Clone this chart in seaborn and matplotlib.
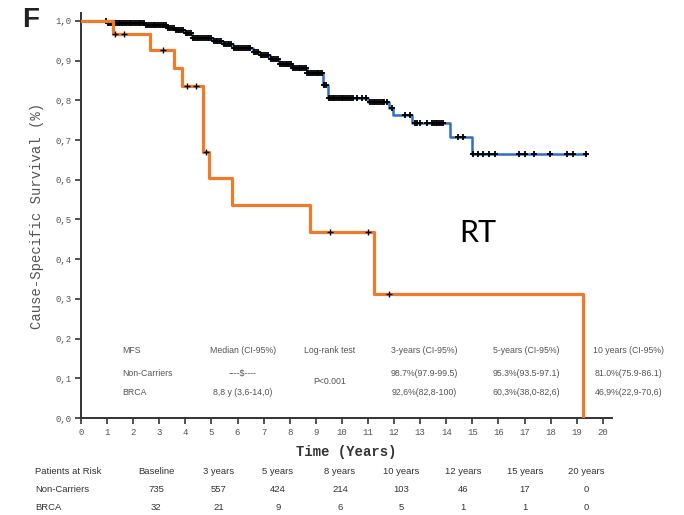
import numpy as np
import pandas as pd
import matplotlib
matplotlib.use("Agg")
import matplotlib.pyplot as plt
import seaborn as sns

# Kaplan-Meier steps (years, survival)
nc_times = [0, 0.99, 2.45, 3.30, 3.60, 3.98, 4.25, 5.06, 5.45, 5.83, 6.60, 6.85, 7.24,
            7.60, 8.10, 8.65, 9.27, 9.46, 11.0, 11.8, 11.95, 12.7, 14.14, 15.0, 19.35]
nc_surv = [1.0, 0.995, 0.990, 0.982, 0.976, 0.970, 0.956, 0.950, 0.941, 0.931, 0.923, 0.914,
           0.903, 0.892, 0.882, 0.870, 0.839, 0.807, 0.797, 0.781, 0.763, 0.743, 0.708,
           0.665, 0.665]
nc_censor = [0.95, 1.02, 1.09, 1.16, 1.23, 1.30, 1.37, 1.44, 1.51, 1.58, 1.65, 1.72, 1.79,
             1.86, 1.93, 2.00, 2.07, 2.14, 2.21, 2.28, 2.35, 2.42, 2.50, 2.57, 2.64, 2.71,
             2.78, 2.85, 2.92, 2.99, 3.06, 3.13, 3.20, 3.27, 3.34, 3.41, 3.48, 3.55, 3.63,
             3.70, 3.77, 3.84, 3.91, 4.01, 4.08, 4.15, 4.22, 4.29, 4.36, 4.43, 4.50, 4.57,
             4.64, 4.71, 4.78, 4.85, 4.92, 4.99, 5.09, 5.16, 5.23, 5.30, 5.37, 5.48, 5.55,
             5.62, 5.69, 5.76, 5.86, 5.93, 6.00, 6.07, 6.14, 6.21, 6.28, 6.35, 6.42, 6.49,
             6.63, 6.70, 6.77, 6.88, 6.95, 7.02, 7.09, 7.16, 7.27, 7.34, 7.41, 7.48, 7.55,
             7.63, 7.70, 7.77, 7.84, 7.91, 7.98, 8.05, 8.13, 8.20, 8.27, 8.34, 8.41, 8.48,
             8.55, 8.62, 8.68, 8.75, 8.82, 8.89, 8.96, 9.03, 9.10, 9.17, 9.24, 9.32, 9.40,
             9.50, 9.57, 9.64, 9.71, 9.78, 9.85, 9.92, 9.99, 10.06, 10.13, 10.20, 10.27,
             10.34, 10.42, 10.57, 10.77, 10.92, 11.07, 11.14, 11.21, 11.28, 11.35, 11.42,
             11.49, 11.56, 11.63, 11.72, 11.92, 12.41, 12.6, 12.8, 12.87, 12.99, 13.26,
             13.45, 13.52, 13.59, 13.66, 13.73, 13.80, 13.87, 14.44, 14.64, 15.02, 15.21,
             15.4, 15.63, 15.86, 16.78, 17.01, 17.36, 17.97, 18.62, 18.85, 19.35]

brca_times = [0, 1.23, 2.64, 3.56, 3.87, 4.67, 4.90, 5.79, 8.77, 11.22, 19.23]
brca_surv = [1.0, 0.967, 0.927, 0.882, 0.836, 0.670, 0.604, 0.536, 0.468, 0.312, 0.0]
brca_censor = [1.30, 1.65, 3.14, 4.06, 4.41, 4.79, 9.54, 10.99, 11.8]

# summary table inside the plot
table_header = ["MFS", "Median (CI-95%)", "Log-rank test", "3-years (CI-95%)",
                "5-years (CI-95%)", "10 years (CI-95%)"]
table_nc = ["Non-Carriers", "----$----", "98.7%(97.9-99.5)", "95.3%(93.5-97.1)",
            "81.0%(75.9-86.1)"]
table_brca = ["BRCA", "8,8 y (3,6-14,0)", "92,6%(82,8-100)", "60,3%(38,0-82,6)",
              "46,9%(22,9-70,6)"]
logrank_p = "P<0.001"

# patients at risk
risk_cols = ["Baseline", "3 years", "5 years", "8 years", "10 years", "12 years",
             "15 years", "20 years"]
risk_nc = [735, 557, 424, 214, 103, 46, 17, 0]
risk_brca = [32, 21, 9, 6, 5, 1, 1, 0]

BLUE = "#2f6fc4"
ORANGE = "#ee7a2a"
GREY = "#555555"


def censor_points(times, surv, cens):
    idx = np.searchsorted(times, cens, side="right") - 1
    return pd.DataFrame({"t": cens, "s": np.array(surv)[idx]})


sns.set_theme(style="white")
fig = plt.figure(figsize=(6.84, 5.15), dpi=100)
ax = fig.add_axes([81 / 684, 1 - 418 / 515, 531 / 684, 405 / 515])

sns.lineplot(x=nc_times, y=nc_surv, drawstyle="steps-post", estimator=None, sort=False,
             color=BLUE, linewidth=1.8, ax=ax)
nc_c = censor_points(nc_times, nc_surv, nc_censor)
sns.scatterplot(data=nc_c, x="t", y="s", marker="+", s=18, color="black",
                linewidth=1.3, ax=ax, zorder=4)

sns.lineplot(x=brca_times, y=brca_surv, drawstyle="steps-post", estimator=None, sort=False,
             color=ORANGE, linewidth=2.3, ax=ax, zorder=5)
b_c = censor_points(brca_times, brca_surv, brca_censor)
sns.scatterplot(data=b_c, x="t", y="s", marker="+", s=18, color="black",
                linewidth=1.0, ax=ax, zorder=6)

ax.set_xlim(0, 20.35)
ax.set_ylim(0, 1.02)
ax.set_xticks(range(0, 21))
ax.set_xticklabels([str(i) for i in range(0, 21)])
yt = np.round(np.arange(0, 1.01, 0.1), 1)
ax.set_yticks(yt)
ax.set_yticklabels([f"{v:.1f}".replace(".", ",") for v in yt])
mono = "Liberation Mono"
for lab in ax.get_xticklabels() + ax.get_yticklabels():
    lab.set_fontfamily(mono)
    lab.set_fontsize(6.5)
    lab.set_color(GREY)
ax.tick_params(axis="both", direction="out", length=4, width=1.2, color="#333333",
               left=True, bottom=True, pad=3)
for side in ["top", "right"]:
    ax.spines[side].set_visible(False)
for side in ["left", "bottom"]:
    ax.spines[side].set_color("#333333")
    ax.spines[side].set_linewidth(1.4)

ax.set_xlabel("Time (Years)", fontfamily=mono, fontsize=10, color="#333333",
              fontweight="bold", labelpad=6)
ax.set_ylabel("Cause-Specific Survival (%)", fontfamily=mono, fontsize=10, color=GREY,
              labelpad=8)

# table inside axes
tfont = dict(fontfamily="Liberation Sans", fontsize=6.3, color=GREY, va="center")
col_x = [1.57, 6.2, 9.54, 13.14, 17.05, 21.0]
ax.text(col_x[0], 0.171, table_header[0], ha="left", **tfont)
for x, h in zip(col_x[1:], table_header[1:]):
    ax.text(x, 0.171, h, ha="center", clip_on=False, **tfont)
ax.text(col_x[0], 0.113, table_nc[0], ha="left", **tfont)
ax.text(col_x[0], 0.063, table_brca[0], ha="left", **tfont)
ax.text(col_x[1], 0.113, table_nc[1], ha="center", **tfont)
ax.text(col_x[1], 0.063, table_brca[1], ha="center", **tfont)
ax.text(col_x[2], 0.091, logrank_p, ha="center", **tfont)
for x, a, b in zip(col_x[3:], table_nc[2:], table_brca[2:]):
    ax.text(x, 0.113, a, ha="center", clip_on=False, **tfont)
    ax.text(x, 0.063, b, ha="center", clip_on=False, **tfont)

ax.text(15.2, 0.465, "RT", fontfamily="Lato", fontsize=22, color="black",
        ha="center", va="center")
fig.text(31 / 684, 1 - 20 / 515, "F", fontfamily="Liberation Sans", fontsize=20,
         fontweight="bold", color="#222222", ha="center", va="center")

# patients at risk below
rfont = dict(fontfamily="Liberation Sans", fontsize=6.8, color="#333333", va="center")
risk_x = [156, 218.5, 278, 340, 401.6, 463, 525, 586.5]
rows_y = [472, 489, 507]
fig.text(35 / 684, 1 - rows_y[0] / 515, "Patients at Risk", ha="left", **rfont)
fig.text(35 / 684, 1 - rows_y[1] / 515, "Non-Carriers", ha="left", **rfont)
fig.text(35 / 684, 1 - rows_y[2] / 515, "BRCA", ha="left", **rfont)
for px, c, a, b in zip(risk_x, risk_cols, risk_nc, risk_brca):
    fig.text(px / 684, 1 - rows_y[0] / 515, c, ha="center", **rfont)
    fig.text(px / 684, 1 - rows_y[1] / 515, str(a), ha="center", **rfont)
    fig.text(px / 684, 1 - rows_y[2] / 515, str(b), ha="center", **rfont)

fig.savefig("out.png", dpi=100)
